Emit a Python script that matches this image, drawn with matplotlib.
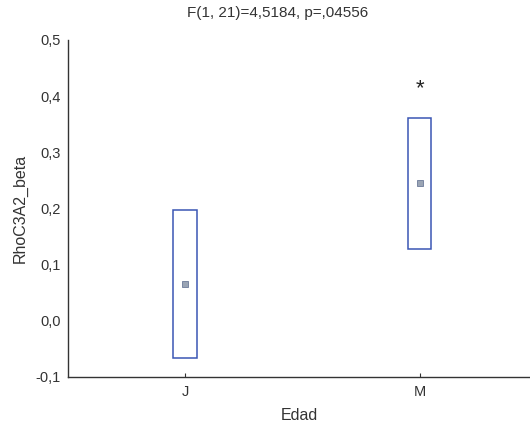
import matplotlib

matplotlib.use("Agg")
import matplotlib.pyplot as plt
from matplotlib.patches import Rectangle
from matplotlib.ticker import FuncFormatter

plt.rcParams["font.family"] = ["Liberation Sans", "DejaVu Sans"]

groups = ["J", "M"]
means = [0.065, 0.245]
upper = [0.197, 0.361]
lower = [-0.066, 0.128]
yticks = [-0.1, 0.0, 0.1, 0.2, 0.3, 0.4, 0.5]

fig = plt.figure(figsize=(5.3, 4.24), dpi=100)
ax = fig.add_axes([0.128, 0.111, 0.872, 0.795])

box_w = 0.1
for i, (m, lo, hi) in enumerate(zip(means, lower, upper)):
    ax.add_patch(Rectangle((i - box_w / 2, lo), box_w, hi - lo, fill=False,
                           edgecolor="#3a56b4", linewidth=1.1))
    ax.plot(i, m, marker="s", markersize=4, markerfacecolor="#9aa4b4",
            markeredgecolor="#6c7a99", markeredgewidth=0.6)

ax.text(1, 0.413, "*", ha="center", va="center", fontsize=16, color="#222222")

ax.set_xlim(-0.5, 1.47)
ax.set_ylim(-0.1, 0.5)
ax.set_xticks(range(len(groups)))
ax.set_xticklabels(groups)
ax.set_yticks(yticks)
ax.yaxis.set_major_formatter(FuncFormatter(lambda v, p: f"{v:.1f}".replace(".", ",")))
ax.tick_params(axis="x", direction="in", length=3, labelsize=10.5, pad=6,
               colors="#333333")
ax.tick_params(axis="y", length=0, labelsize=10.5, pad=5, colors="#333333")
ax.spines["top"].set_visible(False)
ax.spines["right"].set_visible(False)
for s in ("left", "bottom"):
    ax.spines[s].set_color("#333333")
    ax.spines[s].set_linewidth(1.0)

ax.set_xlabel("Edad", fontsize=11.5, labelpad=6, color="#333333")
ax.set_ylabel("RhoC3A2_beta", fontsize=11.5, labelpad=6, color="#333333")
fig.text(0.523, 0.969, "F(1, 21)=4,5184, p=,04556", ha="center", va="center",
         fontsize=11, color="#333333")

fig.savefig("out.png", dpi=100)
